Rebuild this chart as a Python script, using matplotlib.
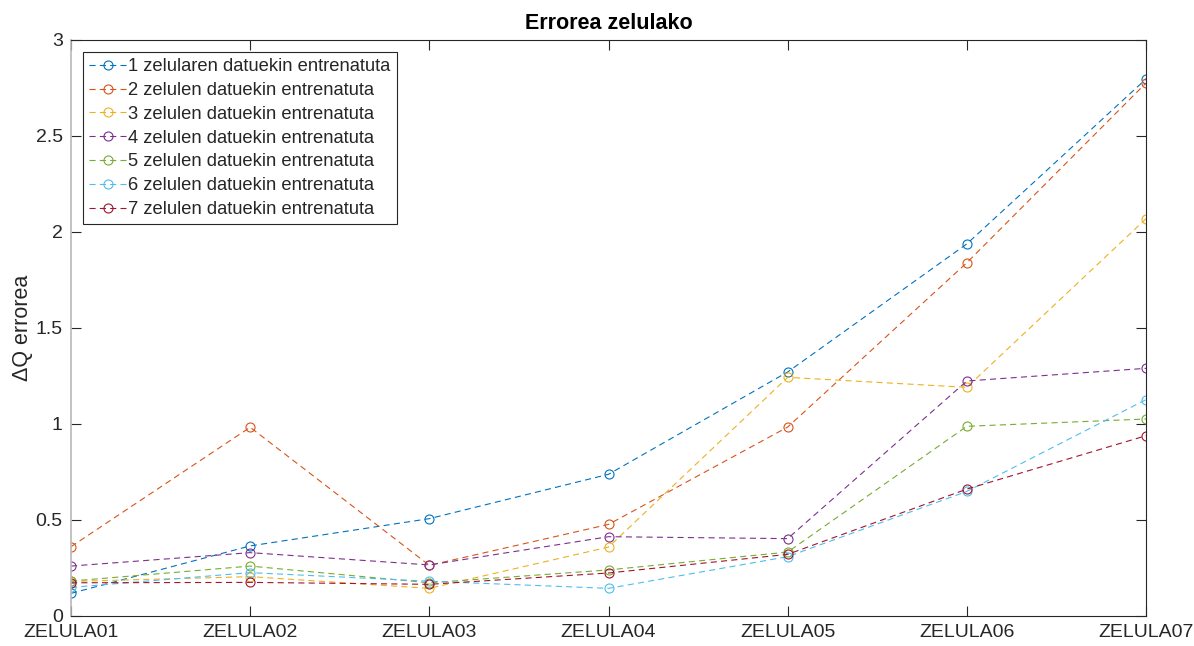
import matplotlib.pyplot as plt
from matplotlib.ticker import FormatStrFormatter, MultipleLocator

# ZELULA bakoitzeko errorea, entrenamenduan erabilitako zelula kopuruaren arabera
zelulak = ["ZELULA01", "ZELULA02", "ZELULA03", "ZELULA04",
           "ZELULA05", "ZELULA06", "ZELULA07"]

errorea_1 = [0.118, 0.365, 0.507, 0.738, 1.271, 1.938, 2.797]
errorea_2 = [0.361, 0.983, 0.264, 0.477, 0.984, 1.840, 2.776]
errorea_3 = [0.180, 0.205, 0.144, 0.359, 1.243, 1.191, 2.069]
errorea_4 = [0.260, 0.330, 0.266, 0.413, 0.403, 1.224, 1.290]
errorea_5 = [0.182, 0.260, 0.173, 0.240, 0.333, 0.988, 1.026]
errorea_6 = [0.149, 0.226, 0.181, 0.144, 0.309, 0.649, 1.127]
errorea_7 = [0.173, 0.175, 0.165, 0.224, 0.321, 0.661, 0.939]

etiketak = ["1 zelularen datuekin entrenatuta",
            "2 zelulen datuekin entrenatuta",
            "3 zelulen datuekin entrenatuta",
            "4 zelulen datuekin entrenatuta",
            "5 zelulen datuekin entrenatuta",
            "6 zelulen datuekin entrenatuta",
            "7 zelulen datuekin entrenatuta"]

koloreak = ["#0072BD", "#D95319", "#EDB120", "#7E2F8E",
            "#77AC30", "#4DBEEE", "#A2142F"]

plt.rcParams['font.family'] = ['Liberation Sans', 'DejaVu Sans']
testu_kolorea = "#262626"

fig = plt.figure(figsize=(11.94, 6.46), dpi=100)
ax = fig.add_axes([71 / 1194, 1 - 616 / 646, (1146 - 71) / 1194, (616 - 40) / 646])

x = list(range(len(zelulak)))
serieak = [errorea_1, errorea_2, errorea_3, errorea_4, errorea_5, errorea_6, errorea_7]
for balioak, kolorea, etiketa in zip(serieak, koloreak, etiketak):
    ax.plot(x, balioak, linestyle=(0, (5.5, 3.8)), linewidth=0.8, color=kolorea,
            marker='o', markersize=6.5, markerfacecolor='none',
            markeredgewidth=0.8, label=etiketa)

ax.set_xlim(0, len(zelulak) - 1)
ax.set_ylim(0, 3)
ax.set_xticks(x)
ax.set_xticklabels(zelulak)
ax.yaxis.set_major_locator(MultipleLocator(0.5))
ax.yaxis.set_major_formatter(FormatStrFormatter('%g'))

ax.tick_params(direction='in', length=7, width=0.8, top=True, right=True,
               labelsize=14, colors=testu_kolorea)
ax.tick_params(axis='x', pad=6)
ax.tick_params(axis='y', pad=6)
for aldea in ['top', 'right', 'bottom']:
    ax.spines[aldea].set_color(testu_kolorea)
    ax.spines[aldea].set_linewidth(0.8)
ax.spines['left'].set_color('#b8b8b8')
ax.spines['left'].set_linewidth(1.2)

ax.set_title("Errorea zelulako", fontsize=15.5, fontweight='bold', color='black', pad=8)
ax.set_ylabel("ΔQ errorea", fontsize=15.5, color=testu_kolorea, labelpad=2)

leg = ax.legend(loc='upper left', fontsize=13.2, frameon=True, fancybox=False,
                framealpha=1, edgecolor=testu_kolorea, borderaxespad=0.65,
                labelspacing=0.37, borderpad=0.35, handlelength=2.0,
                handletextpad=0.1)
leg.get_frame().set_linewidth(0.8)
for teks in leg.get_texts():
    teks.set_color(testu_kolorea)

plt.savefig("out.png", dpi=100)
